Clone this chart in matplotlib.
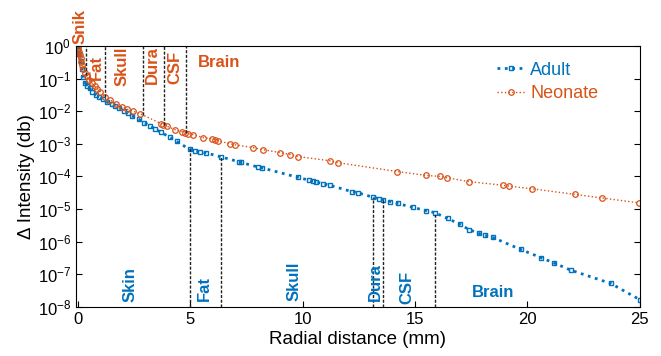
import numpy as np
import matplotlib
matplotlib.use("Agg")
import matplotlib.pyplot as plt

plt.rcParams['font.family'] = ['Liberation Sans', 'DejaVu Sans']
plt.rcParams['mathtext.fontset'] = 'custom'
plt.rcParams['mathtext.rm'] = 'Liberation Sans'
plt.rcParams['mathtext.it'] = 'Liberation Sans:italic'

# ---- data ----
# Neonate: radial distance (mm) and log10 of intensity change
neo_x = [0, 0.02, 0.05, 0.08, 0.12, 0.16, 0.2, 0.25, 0.32, 0.4, 0.5, 0.62, 0.75,
         0.87, 1.0, 1.22, 1.45, 1.7, 1.95, 2.2, 2.45, 2.78, 3.7, 3.8, 3.97, 4.33,
         4.64, 4.77, 4.9, 5.12, 5.57, 5.97, 6.1, 6.24, 6.77, 6.99, 7.8, 8.24, 9.0,
         9.44, 9.79, 11.2, 11.57, 14.2, 15.5, 16.1, 16.4, 17.4, 18.9, 19.2, 20.2,
         22.1, 23.3, 24.95]
neo_log = [0, -0.08, -0.18, -0.28, -0.38, -0.48, -0.6, -0.7, -0.82, -0.93, -1.05,
           -1.15, -1.24, -1.31, -1.4, -1.56, -1.66, -1.78, -1.86, -1.94, -2.0, -2.08,
           -2.38, -2.42, -2.46, -2.57, -2.63, -2.66, -2.69, -2.72, -2.81, -2.85,
           -2.87, -2.91, -3.0, -3.03, -3.12, -3.18, -3.27, -3.33, -3.39, -3.52,
           -3.58, -3.85, -3.97, -4.0, -4.04, -4.16, -4.27, -4.3, -4.38, -4.55,
           -4.66, -4.81]

# Adult
adu_x = [0, 0.03, 0.07, 0.12, 0.18, 0.25, 0.33, 0.42, 0.52, 0.65, 0.8, 0.95, 1.1,
         1.3, 1.5, 1.67, 1.85, 2.05, 2.25, 2.4, 2.7, 2.95, 3.22, 3.45, 3.7, 4.1,
         4.4, 4.97, 5.2, 5.45, 5.7, 6.37, 7.15, 7.25, 8.0, 8.2, 9.79, 10.3, 10.45,
         10.6, 10.9, 11.2, 12.2, 12.45, 13.14, 13.4, 13.58, 13.9, 14.23, 14.9,
         15.5, 15.87, 16.45, 17.0, 17.4, 17.85, 18.1, 18.45, 19.7, 20.6, 21.2,
         21.95, 23.7, 25]
adu_log = [0, -0.1, -0.25, -0.45, -0.7, -0.95, -1.13, -1.22, -1.3, -1.4, -1.5,
           -1.58, -1.64, -1.72, -1.78, -1.83, -1.9, -1.98, -2.07, -2.14, -2.25,
           -2.35, -2.45, -2.55, -2.65, -2.8, -2.93, -3.17, -3.21, -3.25, -3.28,
           -3.4, -3.55, -3.57, -3.71, -3.74, -4.03, -4.12, -4.15, -4.17, -4.22,
           -4.27, -4.47, -4.5, -4.64, -4.68, -4.71, -4.77, -4.83, -4.95, -5.05,
           -5.11, -5.29, -5.47, -5.63, -5.75, -5.8, -5.87, -6.24, -6.49, -6.66,
           -6.88, -7.28, -7.78]

# tissue boundaries (mm)
neo_bounds = [0.38, 1.22, 2.91, 3.84, 4.82]
adu_bounds = [4.97, 6.37, 13.14, 13.58, 15.87]

neo_labels = ['Snik', 'Fat', 'Skull', 'Dura', 'CSF', 'Brain']
neo_lab_x = [0.11, 0.82, 1.98, 3.31, 4.33, 6.28]
neo_lab_log = [0.58, -0.67, -0.61, -0.58, -0.67, -0.52]

adu_labels = ['Skin', 'Fat', 'Skull', 'Dura', 'CSF', 'Brain']
adu_lab_x = [2.33, 5.62, 9.61, 13.25, 14.63, 18.45]
adu_lab_log = [-7.31, -7.43, -7.22, -7.25, -7.4, -7.55]

blue = '#0072BD'
orange = '#D95319'

fig = plt.figure(figsize=(6.61, 3.56), dpi=100)
ax = fig.add_axes([0.115, 0.138, 0.853, 0.733])

neo_y = 10.0 ** np.array(neo_log)
adu_y = 10.0 ** np.array(adu_log)

ax.plot(adu_x, adu_y, ':', color=blue, lw=2, marker='s', ms=3.5,
        mfc='none', mew=1, label='Adult')
ax.plot(neo_x, neo_y, ':', color=orange, lw=1, marker='o', ms=4,
        mfc='none', mew=0.9, label='Neonate')

ax.set_yscale('log')
ax.set_xlim(-0.08, 25)
ax.set_ylim(1e-8, 1)

# boundary lines
dash = (0, (2.2, 1.2))
for b in neo_bounds:
    yv = 10 ** np.interp(b, neo_x, neo_log)
    ax.plot([b, b], [yv, 1], color='#222222', lw=1, linestyle=dash)
for b in adu_bounds:
    yv = 10 ** np.interp(b, adu_x, adu_log)
    ax.plot([b, b], [1e-8, yv], color='#222222', lw=1, linestyle=dash)

for lab, lx, ly in zip(neo_labels, neo_lab_x, neo_lab_log):
    rot = 0 if lab == 'Brain' else 90
    ax.text(lx, 10 ** ly, lab, color=orange, fontsize=12, fontweight='bold',
            rotation=rot, ha='center', va='center', clip_on=False)
for lab, lx, ly in zip(adu_labels, adu_lab_x, adu_lab_log):
    rot = 0 if lab == 'Brain' else 90
    ax.text(lx, 10 ** ly, lab, color=blue, fontsize=12, fontweight='bold',
            rotation=rot, ha='center', va='center')

ax.set_xticks([0, 5, 10, 15, 20, 25])
ax.set_yticks([10.0 ** k for k in range(-8, 1)])
ax.tick_params(axis='both', which='both', direction='in', labelsize=12,
               right=True, top=False)
ax.tick_params(which='major', length=4)
ax.tick_params(which='minor', length=2)
ax.set_xlabel('Radial distance (mm)', fontsize=13.5, labelpad=3)
ax.set_ylabel('Δ Intensity (db)', fontsize=13.5, labelpad=2)

leg = ax.legend(loc='upper left', frameon=False, fontsize=13,
                handlelength=1.6, handletextpad=0.25, labelspacing=0.35,
                borderpad=0, borderaxespad=0, bbox_to_anchor=(0.746, 0.94))
for t, c in zip(leg.get_texts(), [blue, orange]):
    t.set_color(c)

fig.savefig('out.png', dpi=100)
